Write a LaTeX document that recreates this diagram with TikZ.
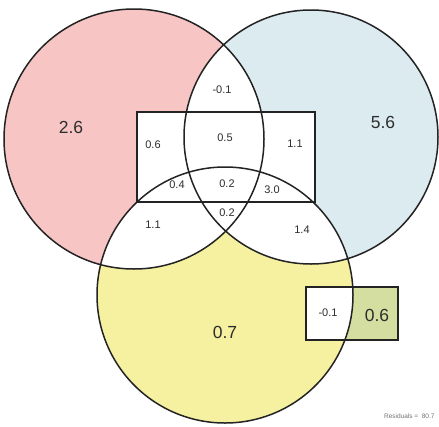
\documentclass[tikz,border=0pt]{standalone}
\usepackage{fontspec}
\setmainfont{Liberation Sans}
\definecolor{redfill}{RGB}{247,198,196}
\definecolor{bluefill}{RGB}{220,235,240}
\definecolor{yelfill}{RGB}{245,241,160}
\definecolor{grnfill}{RGB}{212,222,160}
\definecolor{edge}{RGB}{35,35,35}
\definecolor{txt}{RGB}{45,45,45}
\begin{document}
\begin{tikzpicture}[x=1pt,y=-1pt,
  outline/.style={draw=edge,line width=1.3pt},
  ring/.style={draw=edge,line width=1.5pt,circle,inner sep=0pt},
  big/.style={font=\fontsize{17.5}{17.5}\selectfont,text=txt},
  small/.style={font=\fontsize{11}{11}\selectfont,text=txt}]
\useasboundingbox (0,0) rectangle (439,426);
\fill[white] (0,0) rectangle (439,426);
\coordinate (cr) at (134,139);
\coordinate (cb) at (311,137);
\coordinate (cy) at (225,295);
\def\rr{130}\def\rb{127}\def\ry{128}
% base fills
\fill[redfill] (cr) circle (\rr);
\fill[bluefill] (cb) circle (\rb);
\fill[yelfill] (cy) circle (\ry);
% pairwise intersections white
\begin{scope}\clip (cr) circle (\rr); \fill[white] (cb) circle (\rb); \fill[white] (cy) circle (\ry);\end{scope}
\begin{scope}\clip (cb) circle (\rb); \fill[white] (cy) circle (\ry);\end{scope}
% big rectangle
\fill[white] (137,112) rectangle (315,202);
% small rectangle
\fill[grnfill] (306,287) rectangle (398,340);
\begin{scope}\clip (306,287) rectangle (398,340); \fill[white] (cy) circle (\ry);\end{scope}
% outlines
\draw[outline] (137,112) rectangle (315,202);
\draw[outline] (306,287) rectangle (398,340);
\node[ring,minimum size=260pt] (red) at (cr) {};
\node[ring,minimum size=254pt] (blue) at (cb) {};
\node[ring,minimum size=256pt] (yel) at (cy) {};
% labels
\node[big] (l1) at (71,127) {2.6};
\node[big] (l2) at (383,122) {5.6};
\node[big] (l3) at (225,332) {0.7};
\node[big] (l4) at (377,315) {0.6};
\node[small] (l5) at (328,313) {-0.1};
\node[small] (l6) at (222,90) {-0.1};
\node[small] (l7) at (153,145) {0.6};
\node[small] (l8) at (225,138) {0.5};
\node[small] (l9) at (295,144) {1.1};
\node[small] (l10) at (177,185) {0.4};
\node[small] (l11) at (227,184) {0.2};
\node[small] (l12) at (272,190) {3.0};
\node[small] (l13) at (227,213) {0.2};
\node[small] (l14) at (153,225) {1.1};
\node[small] (l15) at (302,230) {1.4};
\node[font=\fontsize{6.5}{6.5}\selectfont,text=black!55,anchor=east] (res) at (438,416) {Residuals =\ \ 80.7};
\end{tikzpicture}
\end{document}
